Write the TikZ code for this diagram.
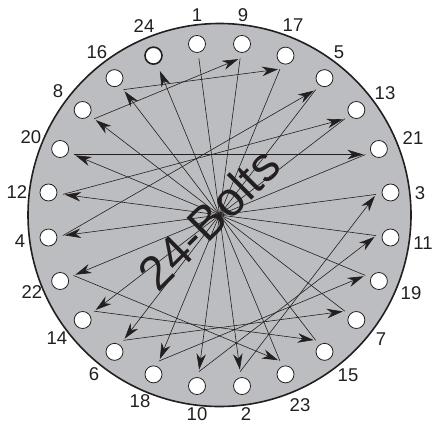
\documentclass[tikz,border=0pt]{standalone}
\usepackage{xcolor}
\usepackage{fontspec}
\setmainfont{Liberation Sans}
\usetikzlibrary{arrows.meta}
\definecolor{plate}{HTML}{BBBDC0}
\definecolor{ink}{HTML}{231F20}
\tikzset{
  every node/.style={text=ink},
  flange/.style={circle,draw=ink,fill=plate,line width=1.6pt,minimum size=383pt,inner sep=0pt},
  hole/.style={circle,draw=ink,fill=white,line width=0.8pt,minimum size=17pt,inner sep=0pt},
  first/.style={hole,line width=1.6pt},
  ar/.style={-{Stealth[length=16pt,width=9.5pt,inset=5pt]},draw=ink,line width=0.6pt,shorten >=2pt},
  lab/.style={font=\fontsize{18.5}{18.5}\selectfont,inner sep=0pt},
  titlelab/.style={font=\fontsize{48}{48}\selectfont,inner sep=0pt},
}
\begin{document}
\begin{tikzpicture}[x=1pt,y=-1pt]
\useasboundingbox (0,0) rectangle (435,425);
\node[flange] (plate) at (219.5,215) {};
% holes: number / angle / label position
\foreach \n/\a/\lx/\ly in {
  1/97.5/197/15, 9/82.5/243/15, 17/67.5/293/25, 5/52.5/339/52,
  13/37.5/385/93, 21/22.5/413/138, 3/7.5/420/193, 11/-7.5/423/243,
  19/-22.5/411/293, 7/-37.5/381/339, 15/-52.5/348/375, 23/-67.5/300/405,
  2/-82.5/246/414, 10/-97.5/197/414, 18/-112.5/140/401, 6/-127.5/94/374,
  14/-142.5/57/338, 22/-157.5/32/292, 4/-172.5/20/241, 12/172.5/17/192,
  20/157.5/31/137, 8/142.5/58/91, 16/127.5/97/52}{
  \node[hole] (h\n) at ({219.5+172.5*cos(\a)},{215-172.5*sin(\a)}) {};
  \node[lab] (t\n) at (\lx,\ly) {\n};
  \coordinate (p\n) at ({219.5+158*cos(\a)},{215-158*sin(\a)});
}
\node[first] (h24) at ({219.5+172.5*cos(112.5)},{215-172.5*sin(112.5)}) {};
\node[lab] (t24) at (144,26) {24};
\coordinate (p24) at ({219.5+158*cos(112.5)},{215-158*sin(112.5)});
% tightening order
\foreach \n in {1,...,23}{
  \pgfmathtruncatemacro{\m}{\n+1}
  \draw[ar] (p\n) -- (p\m);
}
\node[titlelab,rotate=45] (title) at (209,219) {24-Bolts};
\end{tikzpicture}
\end{document}
